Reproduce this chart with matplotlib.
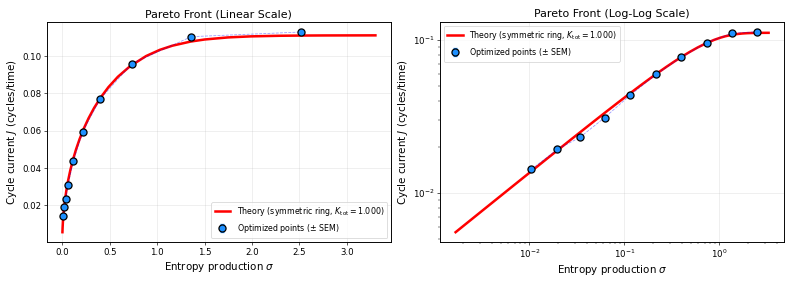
import matplotlib
matplotlib.use("Agg")
import matplotlib.pyplot as plt

# Theory curve (symmetric ring, K_tot = 1)
theory_sigma = [0.001668, 0.003272, 0.006689, 0.015114, 0.027031, 0.042569,
                0.061904, 0.085270, 0.112973, 0.145410, 0.183102, 0.226740,
                0.277259, 0.335963, 0.404740, 0.486478, 0.585927, 0.711820,
                0.883332, 1.028201, 1.160128, 1.353017, 1.501072, 1.746791,
                1.986339, 2.297647, 2.530934, 2.763218, 3.300816]
theory_J = [0.005556, 0.007778, 0.011111, 0.016667, 0.022222, 0.027778,
            0.033333, 0.038889, 0.044444, 0.050000, 0.055556, 0.061111,
            0.066667, 0.072222, 0.077778, 0.083333, 0.088889, 0.094444,
            0.100000, 0.103333, 0.105556, 0.107778, 0.108889, 0.110000,
            0.110556, 0.110889, 0.111000, 0.111056, 0.111100]

# Optimized points
opt_sigma = [0.0105, 0.0197, 0.034, 0.062, 0.115, 0.216, 0.398, 0.735, 1.36, 2.52]
opt_J = [0.0143, 0.0193, 0.0231, 0.0311, 0.0435, 0.0595, 0.0769, 0.0960, 0.1104, 0.1129]
opt_sem = [0.0002, 0.0002, 0.0002, 0.0002, 0.0002, 0.0002, 0.0002, 0.0002, 0.0002, 0.0002]

theory_label = r"Theory (symmetric ring, $K_{\rm tot} = 1.000$)"
points_label = r"Optimized points ($\pm$ SEM)"

fig, axes = plt.subplots(1, 2, figsize=(14, 5), dpi=56.64)
fig.subplots_adjust(left=0.059, right=0.989, bottom=0.144, top=0.923, wspace=0.142)

for ax, loglog in zip(axes, (False, True)):
    ax.plot(theory_sigma, theory_J, color="red", linewidth=3.2, label=theory_label, zorder=2)
    ax.plot(opt_sigma, opt_J, "b--", linewidth=1, alpha=0.4, zorder=3)
    ax.errorbar(opt_sigma, opt_J, yerr=opt_sem, fmt="o", markersize=9,
                markerfacecolor="#1e90ff", markeredgecolor="black", markeredgewidth=1.6,
                ecolor="#1e90ff", capsize=3, label=points_label, zorder=4)
    if loglog:
        ax.set_xscale("log")
        ax.set_yscale("log")
        ax.set_title("Pareto Front (Log-Log Scale)", fontsize=14)
        ax.legend(loc="upper left", fontsize=10)
    else:
        ax.set_title("Pareto Front (Linear Scale)", fontsize=14)
        ax.legend(loc="lower right", fontsize=10)
    ax.set_xlabel(r"Entropy production $\sigma$", fontsize=13)
    ax.set_ylabel(r"Cycle current $J$ (cycles/time)", fontsize=13)
    ax.tick_params(labelsize=11)
    ax.grid(alpha=0.3)
    for spine in ax.spines.values():
        spine.set_linewidth(1.2)

fig.savefig("out.png", dpi=56.64)
